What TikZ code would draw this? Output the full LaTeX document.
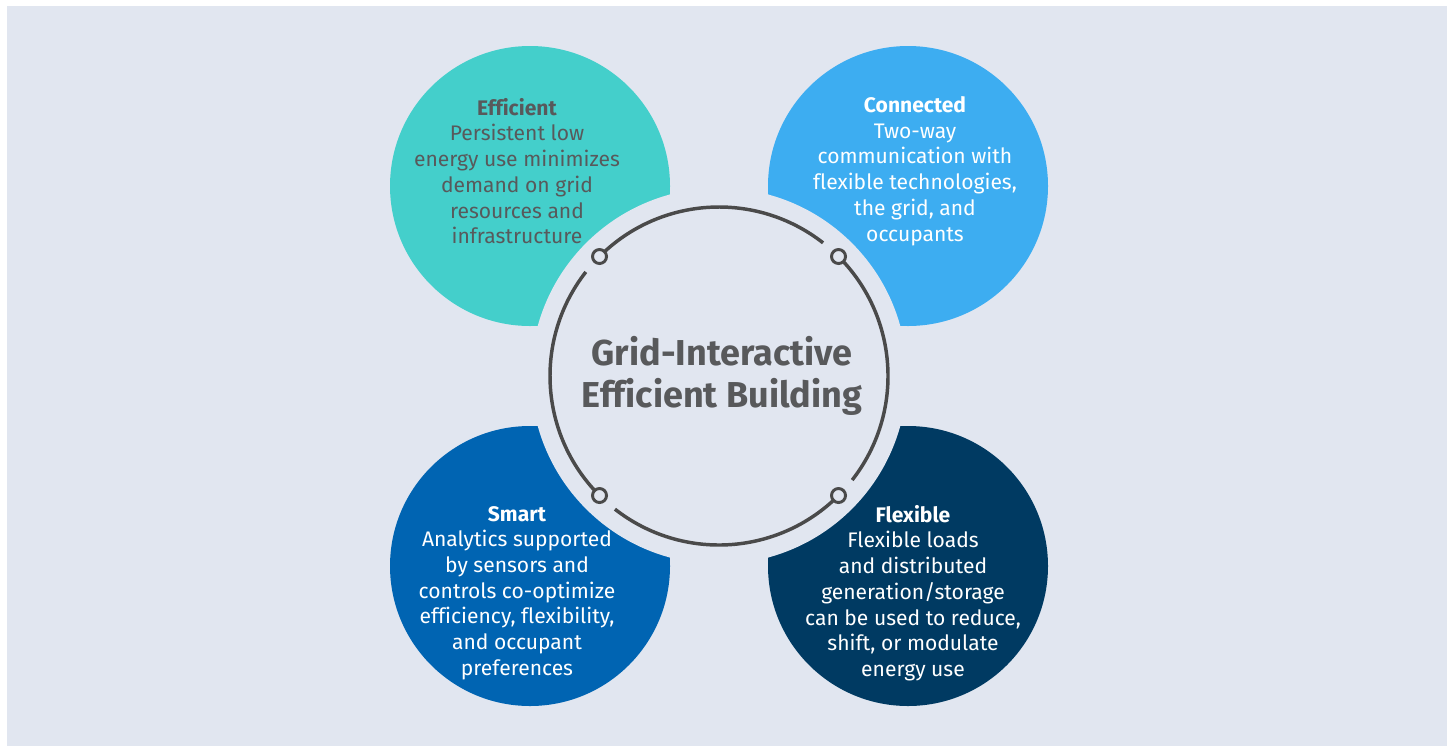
\documentclass[tikz,border=0pt]{standalone}
\usepackage{fontspec}
\setmainfont{Fira Sans}[Ligatures=NoCommon]
\usetikzlibrary{calc}
\definecolor{panelbg}{HTML}{E1E6F0}
\definecolor{efficientcol}{HTML}{44CFCB}
\definecolor{connectedcol}{HTML}{3DADF1}
\definecolor{smartcol}{HTML}{0064B2}
\definecolor{flexiblecol}{HTML}{003A62}
\definecolor{ringgray}{HTML}{4A4A4A}
\definecolor{textgray}{HTML}{58595B}

\begin{document}
\begin{tikzpicture}[x=0.75pt,y=0.75pt,yscale=-1,xscale=1,
    blurb/.style={align=center, inner sep=0pt, font=\fontsize{15.8}{19.3}\selectfont},
    hubtitle/.style={align=center, inner sep=0pt, text=textgray, font=\fontsize{27}{31.5}\selectfont\bfseries},
    ring/.style={draw=ringgray, line width=2.6pt},
    knob/.style={circle, draw=ringgray, line width=2.2pt, fill=panelbg, minimum size=10.5pt, inner sep=0pt}]
    \useasboundingbox (0,0) rectangle (1452,747);
    %panel
    \fill [panelbg] (7,6) rectangle (1447,746);
    
    %Shape: Circles [the four petals]
    \fill [efficientcol] (530,186) circle (140);
    \fill [connectedcol] (908,186) circle (140);
    \fill [smartcol] (530,566) circle (140);
    \fill [flexiblecol] (908,566) circle (140);
    %cut-out behind the ring
    \coordinate (hub) at (719,376);
    \fill [panelbg] (hub) circle (188);
    
    %Arcs of the ring with knobs
    \foreach \a/\i in {-135/1,-45/2,45/3,135/4} {
        \draw [ring] ($(hub)+(\a:169)$) arc [start angle=\a, end angle=\a+83, radius=169];
        \node [knob] (knob\i) at ($(hub)+(\a:169)$) {};
    }
    
    %Texts
    \node [hubtitle] (gieb) at (722,376) {Grid-Interactive\\Efficient Building};
    \node [blurb, text=textgray] (efficient) at (517,171) {\textbf{Efficient}\\Persistent low\\energy use minimizes\\demand on grid\\resources and\\infrastructure};
    \node [blurb, text=white] (connected) at (915,171) {\textbf{Connected}\\Two-way\\communication with\\flexible technologies,\\the grid, and\\occupants};
    \node [blurb, text=white] (smart) at (517,593) {\textbf{Smart}\\Analytics supported\\by sensors and\\controls co-optimize\\efficiency, flexibility,\\and occupant\\preferences};
    \node [blurb, text=white] (flexible) at (913,593) {\textbf{Flexible}\\Flexible loads\\and distributed\\generation/storage\\can be used to reduce,\\shift, or modulate\\energy use};
    
\end{tikzpicture}
\end{document}
